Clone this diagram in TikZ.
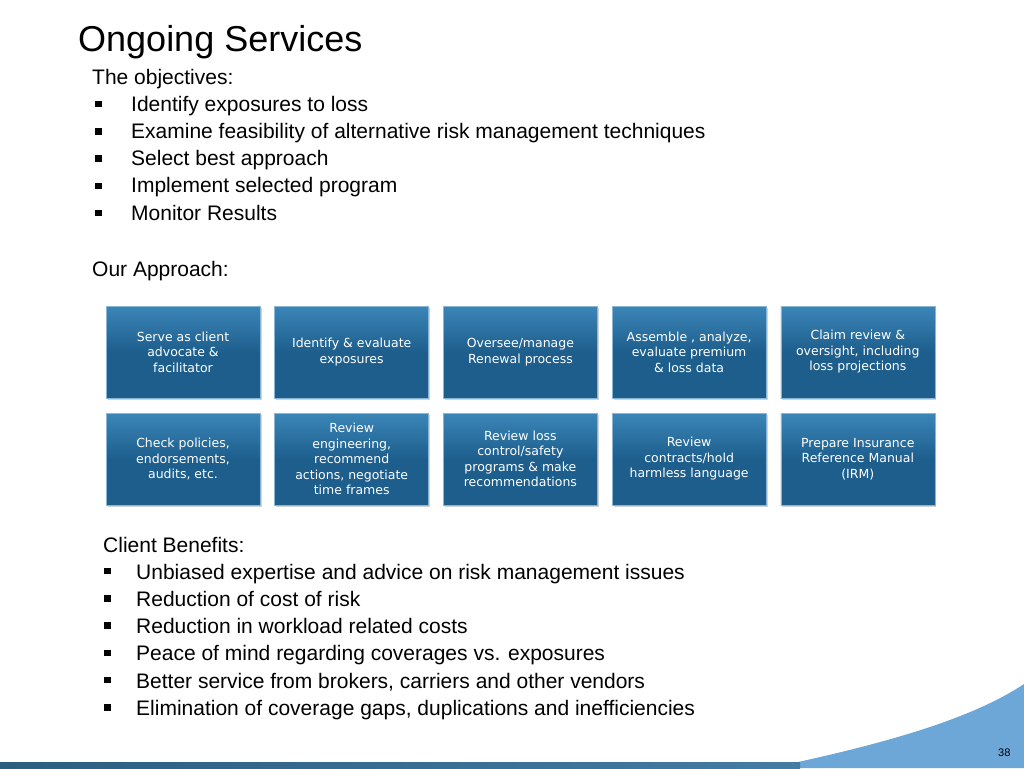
\documentclass[tikz,border=0pt]{standalone}
\usepackage{fontspec}
\usetikzlibrary{shadows}
\setmainfont{Liberation Sans}
\newfontfamily\boxfont{DejaVu Sans}
\definecolor{boxblue}{HTML}{1D5E8C}
\definecolor{boxtop}{HTML}{3B86B8}
\definecolor{swoosh}{HTML}{6CA7D8}
\definecolor{stripe}{HTML}{2B5F80}
\begin{document}
\begin{tikzpicture}[x=1pt,y=-1pt,
  txt/.style={anchor=base west, inner sep=0pt, font=\fontsize{21}{24}\selectfont},
  bul/.style={fill=black, minimum size=6.5pt, inner sep=0pt},
  svcbox/.style={minimum width=154pt, minimum height=92pt, inner sep=2pt, align=center,
    top color=boxtop, bottom color=boxblue, middle color=boxblue, draw=boxtop!60!white, line width=0.6pt,
    text=white, font=\boxfont\fontsize{12.5}{15.5}\selectfont, drop shadow={opacity=0.35, shadow xshift=1.5pt, shadow yshift=-1.5pt}}]
\useasboundingbox (0,0) rectangle (1024,768);

% Swoosh and bottom stripe
\fill[swoosh] (770,768) .. controls (880,745) and (970,720) .. (1024,684) -- (1024,768) -- cycle;
\fill[left color=stripe, right color=stripe!60!swoosh] (0,762) rectangle (800,768);
\node[anchor=base east, font=\fontsize{11}{13}\selectfont] (page) at (1014,756) {38};

% Title and objectives
\node[anchor=base west, inner sep=0pt, font=\fontsize{36}{40}\selectfont] (title) at (78,52) {Ongoing Services};
\node[txt] (obj) at (92,84) {The objectives:};
\foreach \t [count=\i] in {Identify exposures to loss,
  Examine feasibility of alternative risk management techniques,
  Select best approach, Implement selected program, Monitor Results}{
  \node[bul] (ob\i) at (98.5,{104+27.3*(\i-1)}) {};
  \node[txt] (ot\i) at (131,{111+27.3*(\i-1)}) {\t};
}
\node[txt] (appr) at (92,276) {Our Approach:};

% Service boxes
\foreach \t [count=\i] in {{Serve as client\\advocate \&\\facilitator},
  {Identify \& evaluate\\exposures},
  {Oversee/manage\\Renewal process},
  {Assemble , analyze,\\evaluate premium\\\& loss data},
  {Claim review \&\\oversight, including\\loss projections}}{
  \node[svcbox] (s\i) at ({183+168.7*(\i-1)},352) {\t};
}
\foreach \t [count=\i] in {{Check policies,\\endorsements,\\audits, etc.},
  {Review\\engineering,\\recommend\\actions, negotiate\\time frames},
  {Review loss\\control/safety\\programs \& make\\recommendations},
  {Review\\contracts/hold\\harmless language},
  {Prepare Insurance\\Reference Manual\\(IRM)}}{
  \node[svcbox] (r\i) at ({183+168.7*(\i-1)},459) {\t};
}

% Client benefits
\node[txt] (ben) at (103,552) {Client Benefits:};
\foreach \t [count=\i] in {Unbiased expertise and advice on risk management issues,
  Reduction of cost of risk, Reduction in workload related costs,
  Peace of mind regarding coverages vs. exposures,
  {Better service from brokers, carriers and other vendors},
  {Elimination of coverage gaps, duplications and inefficiencies}}{
  \node[bul] (bb\i) at (107.5,{571+27.3*(\i-1)}) {};
  \node[txt] (bt\i) at (136,{579+27.3*(\i-1)}) {\t};
}
\end{tikzpicture}
\end{document}
